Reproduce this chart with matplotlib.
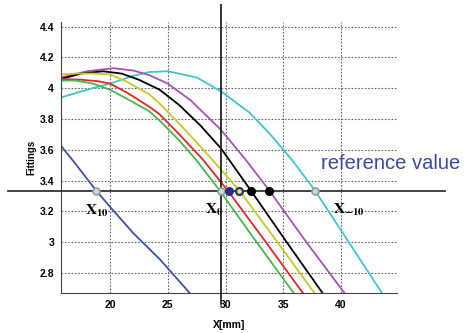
import numpy as np
import matplotlib
matplotlib.use('Agg')
from matplotlib import pyplot as plt

plt.rcParams['mathtext.fontset'] = 'stix'

# curves (x in mm, fitting value)
blue_x = [15.76, 17.0, 18.8, 20.0, 22.0, 24.3, 26.9]
blue_y = [3.626, 3.51, 3.335, 3.23, 3.06, 2.89, 2.67]

green_x = [15.76, 17.0, 18.5, 20.0, 21.5, 23.4, 24.3, 26.0, 27.4, 29.5, 32.5, 35.9]
green_y = [4.05, 4.05, 4.03, 3.99, 3.93, 3.85, 3.79, 3.66, 3.54, 3.335, 3.02, 2.67]

red_x = [15.76, 17.5, 19.0, 20.0, 21.5, 23.4, 24.3, 26.0, 28.0, 30.2, 33.5, 36.7]
red_y = [4.06, 4.055, 4.045, 4.03, 3.97, 3.88, 3.83, 3.70, 3.54, 3.335, 3.00, 2.67]

yellow_x = [15.76, 17.0, 18.5, 20.0, 21.5, 23.4, 24.3, 26.5, 28.8, 31.2, 34.5, 37.7]
yellow_y = [4.09, 4.095, 4.095, 4.09, 4.04, 3.96, 3.90, 3.73, 3.54, 3.335, 3.00, 2.67]

black_x = [15.76, 17.5, 19.4, 21.0, 22.5, 24.3, 26.0, 27.8, 29.6, 32.2, 35.3, 38.4]
black_y = [4.06, 4.095, 4.11, 4.095, 4.055, 3.99, 3.89, 3.76, 3.61, 3.335, 3.00, 2.67]

purple_x = [15.76, 18.0, 20.3, 22.0, 23.4, 25.0, 27.0, 29.6, 31.7, 33.8, 37.0, 40.3]
purple_y = [4.07, 4.11, 4.13, 4.115, 4.085, 4.03, 3.92, 3.73, 3.54, 3.335, 3.00, 2.67]

cyan_x = [15.76, 18.0, 20.0, 22.0, 23.4, 25.0, 27.5, 29.6, 32.1, 34.0, 35.8, 37.75, 40.5, 43.55]
cyan_y = [3.94, 3.99, 4.03, 4.08, 4.105, 4.11, 4.07, 3.98, 3.84, 3.69, 3.53, 3.335, 3.02, 2.67]

ref_value = 3.335
x0 = 29.6
gray_pts = [18.8, 29.6, 37.75]
navy_pts = [30.3]
ring_pts = [31.2]
black_pts = [32.2, 33.8]

fig = plt.figure(figsize=(4.66, 3.33), dpi=100)
ax = fig.add_axes([0.131, 0.12, 0.721, 0.814])

curves = [
    (blue_x, blue_y, '#3d52a8'),
    (cyan_x, cyan_y, '#3ec6cc'),
    (purple_x, purple_y, '#a453b5'),
    (black_x, black_y, 'black'),
    (yellow_x, yellow_y, '#c9c823'),
    (red_x, red_y, '#e0262a'),
    (green_x, green_y, '#47b649'),
]
for xs, ys, c in curves:
    ax.plot(xs, ys, color=c, lw=1.3)

ax.set_xlim(15.76, 44.85)
ax.set_ylim(2.67, 4.43)
ax.set_xticks([20, 25, 30, 35, 40])
ax.set_yticks([2.8, 3, 3.2, 3.4, 3.6, 3.8, 4, 4.2, 4.4])
ax.set_yticklabels(['2.8', '3', '3.2', '3.4', '3.6', '3.8', '4', '4.2', '4.4'])
ax.grid(True, linestyle=(0, (1.5, 1.5)), color='#666666', lw=0.8)
ax.tick_params(length=0, labelsize=7.5, pad=5)
for lab in ax.get_xticklabels() + ax.get_yticklabels():
    lab.set_fontweight('bold')
    lab.set_family('Liberation Sans')
for s in ['top', 'right']:
    ax.spines[s].set_visible(False)
ax.spines['left'].set_color('#444444')
ax.spines['bottom'].set_color('#444444')

ax.set_xlabel('X[mm]', fontsize=7.5, fontweight='bold', family='Liberation Sans', labelpad=7)
ax.set_ylabel('Fittings', fontsize=7, fontweight='bold', family='Liberation Sans', labelpad=2)

# reference lines
ax.plot([11.17, 49.0], [ref_value, ref_value], color='#333333', lw=1.3, clip_on=False, zorder=5)
ax.plot([x0, x0], [2.60, 4.54], color='#222222', lw=1.3, clip_on=False, zorder=5)

ax.plot(gray_pts, [ref_value] * len(gray_pts), 'o', ms=5, mfc='#cdd8d8', mec='#8a9c9c', mew=1.2, zorder=6)
ax.plot(navy_pts, [ref_value] * len(navy_pts), 'o', ms=5.5, mfc='#2b2f7a', mec='#2b2f7a', zorder=6)
ax.plot(ring_pts, [ref_value] * len(ring_pts), 'o', ms=5, mfc='#e8e840', mec='#2b2f7a', mew=1.6, zorder=6)
ax.plot(black_pts, [ref_value] * len(black_pts), 'o', ms=5.5, mfc='black', mec='black', zorder=6)

ax.text(38.27, 3.514, 'reference value', color='#3b4aa0', fontsize=14.5,
        family='Liberation Sans', va='center', ha='left', clip_on=False)
ax.text(17.8, 3.20, r'$\mathbf{X_{10}}$', fontsize=11, ha='left', va='center')
ax.text(28.2, 3.21, r'$\mathbf{X_{0}}$', fontsize=11, ha='left', va='center')
ax.text(39.3, 3.21, r'$\mathbf{X_{-10}}$', fontsize=11, ha='left', va='center')

fig.savefig('out.png', dpi=100)
